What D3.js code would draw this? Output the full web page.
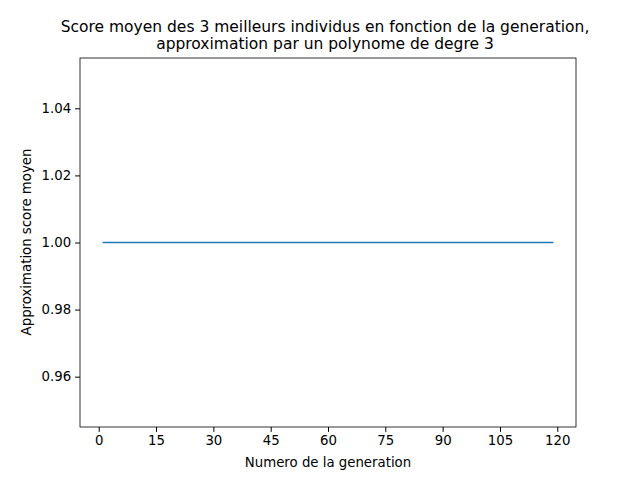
<!DOCTYPE html>
<html>
<head>
<meta charset="utf-8">
<script src="https://cdn.jsdelivr.net/npm/d3@7.9.0/dist/d3.min.js"></script>
<style>
  body { margin: 0; background: #fff; }
  text { font-family: "DejaVu Sans", sans-serif; }
</style>
</head>
<body>
<svg id="chart" width="640" height="480"></svg>
<script>
// fitted curve endpoints (constant approximation)
const generations = [1, 119];
const scores = [1.0, 1.0];
const xTicks = [0, 15, 30, 45, 60, 75, 90, 105, 120];
const yTicks = [0.96, 0.98, 1.00, 1.02, 1.04];

const svg = d3.select('#chart');
const m = { left: 80, right: 576, top: 58, bottom: 427 };

const x = d3.scaleLinear().domain([-4.9, 124.9]).range([m.left, m.right]);
const y = d3.scaleLinear().domain([0.945, 1.055]).range([m.bottom, m.top]);

const xAxis = svg.append('g')
  .attr('transform', `translate(0,${m.bottom})`)
  .call(d3.axisBottom(x).tickValues(xTicks).tickSize(4.9).tickPadding(4));
const yAxis = svg.append('g')
  .attr('transform', `translate(${m.left},0)`)
  .call(d3.axisLeft(y).tickValues(yTicks).tickSize(4.9).tickPadding(4).tickFormat(d3.format('.2f')));

[xAxis, yAxis].forEach(g => {
  g.select('.domain').remove();
  g.selectAll('text').attr('font-size', 13.3).attr('fill', '#000')
    .style('font-family', '"DejaVu Sans", sans-serif');
  g.selectAll('line').attr('stroke', '#000');
});

svg.append('rect')
  .attr('x', m.left).attr('y', m.top)
  .attr('width', m.right - m.left).attr('height', m.bottom - m.top)
  .attr('fill', 'none').attr('stroke', '#000').attr('stroke-width', 0.8);

const pts = generations.map((g, i) => [g, scores[i]]);
svg.append('path')
  .attr('d', d3.line().x(d => x(d[0])).y(d => y(d[1]))(pts))
  .attr('fill', 'none').attr('stroke', '#1f77b4').attr('stroke-width', 1.5);

svg.append('text').attr('x', 328).attr('y', 467).attr('text-anchor', 'middle')
  .attr('font-size', 13.3).text('Numero de la generation');
svg.append('text').attr('transform', `translate(31,242) rotate(-90)`).attr('text-anchor', 'middle')
  .attr('font-size', 13.3).text('Approximation score moyen');

svg.append('text').attr('x', 325).attr('y', 32).attr('text-anchor', 'middle')
  .attr('font-size', 15.5).text('Score moyen des 3 meilleurs individus en fonction de la generation,');
svg.append('text').attr('x', 325).attr('y', 49).attr('text-anchor', 'middle')
  .attr('font-size', 15.5).text('approximation par un polynome de degre 3');
</script>
</body>
</html>
